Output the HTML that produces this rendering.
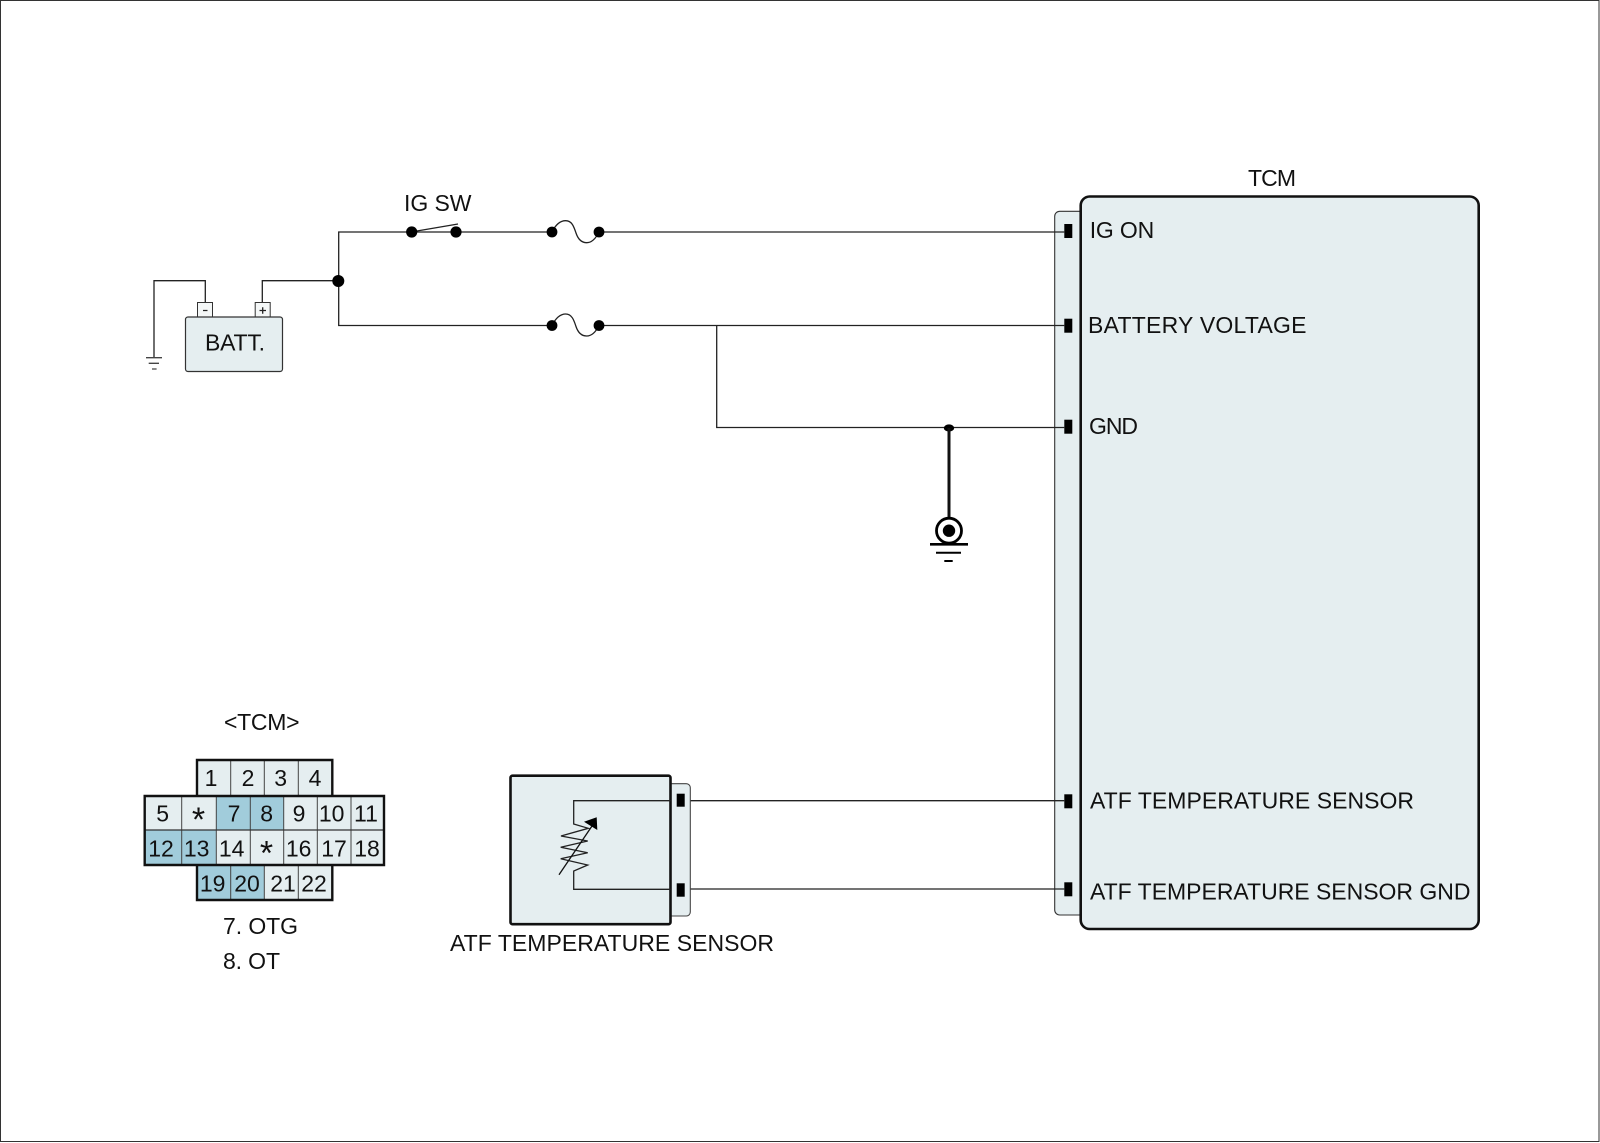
<!DOCTYPE html>
<html><head><meta charset="utf-8"><style>
html,body{margin:0;padding:0;background:#fff}
svg{display:block}
text{font-family:"Liberation Sans",Arial,sans-serif;font-size:23px;fill:#111}
.n text{text-anchor:middle}
.n text.s{font-size:34px}
</style></head><body>
<svg width="1600" height="1143" viewBox="0 0 1600 1143" xmlns="http://www.w3.org/2000/svg">
<rect x="0.5" y="0.5" width="1598.5" height="1141" fill="#fff" stroke="#333" stroke-width="1"/>

<!-- TCM module -->
<rect x="1054.7" y="211.3" width="40" height="703.7" rx="5" fill="#e5eef0" stroke="#333" stroke-width="1.1"/>
<rect x="1080.7" y="196.5" width="398" height="732.5" rx="9" fill="#e5eef0" stroke="#111" stroke-width="2.6"/>
<g fill="#000">
<rect x="1064.3" y="224" width="8" height="14"/>
<rect x="1064.3" y="318.7" width="8" height="14"/>
<rect x="1064.3" y="419.7" width="8" height="14"/>
<rect x="1064.3" y="794.3" width="8" height="14"/>
<rect x="1064.3" y="882.3" width="8" height="14"/>
</g>
<text x="1248" y="186" textLength="48">TCM</text>
<text x="1089.7" y="238" textLength="64.5">IG ON</text>
<text x="1088" y="333" textLength="218.5">BATTERY VOLTAGE</text>
<text x="1089" y="434" textLength="49">GND</text>
<text x="1090" y="808.7" textLength="324">ATF TEMPERATURE SENSOR</text>
<text x="1090" y="899.3" textLength="380.5">ATF TEMPERATURE SENSOR GND</text>

<!-- wires -->
<g fill="none" stroke="#222" stroke-width="1.3">
<path d="M154 357V280.7H205.3V302"/>
<path d="M262.3 302V280.7H338.3"/>
<path d="M552 232H338.7V325.5H552"/>
<path d="M599 232H1064.3"/>
<path d="M599 325.5H1064.3"/>
<path d="M716.7 325.5V427.5H1064.3"/>
<path d="M411 232L458 224"/>
<path d="M552 232C556 224 561 220.7 565.7 220.7C572 220.7 574 227 576 233C578 239 581 242.7 586.7 242.7C592 242.7 596 238 599 232"/>
<path d="M552 325.5C556 317.5 561 314 565.7 314C572 314 574 320.5 576 326.5C578 332.5 581 336 586.7 336C592 336 596 331.5 599 325.5"/>
<path d="M690.3 800.7H1064.3"/>
<path d="M690.3 889H1064.3"/>
</g>
<g fill="#000">
<circle cx="338.3" cy="281" r="6"/>
<circle cx="411.7" cy="232" r="5.6"/>
<circle cx="456" cy="232" r="5.6"/>
<circle cx="552" cy="232" r="5.4"/>
<circle cx="599" cy="232" r="5.4"/>
<circle cx="552" cy="325.5" r="5.4"/>
<circle cx="599" cy="325.5" r="5.4"/>
<ellipse cx="949" cy="428" rx="5.2" ry="3.6"/>
</g>
<text x="404" y="211" textLength="67.5">IG SW</text>

<!-- battery -->
<rect x="197.5" y="302.5" width="15" height="15" fill="#f4f7f7" stroke="#333" stroke-width="1"/>
<rect x="255.2" y="302.5" width="15" height="15" fill="#f4f7f7" stroke="#333" stroke-width="1"/>
<path d="M203 310.5h4.5M259.5 310.5h6.5M262.7 307.2v6.6" stroke="#222" stroke-width="1.3" fill="none"/>
<rect x="185.5" y="317" width="97" height="54.5" rx="2.5" fill="#e5eef0" stroke="#333" stroke-width="1.2"/>
<text x="205" y="350.7" textLength="60">BATT.</text>
<path d="M146 357.7H162M148.7 363.3H159M152 369H156.6" stroke="#444" stroke-width="1.3" fill="none"/>

<!-- chassis ground -->
<path d="M949 428V518" stroke="#111" stroke-width="3" fill="none"/>
<circle cx="949" cy="530.7" r="12.5" fill="#fff" stroke="#000" stroke-width="2.8"/>
<circle cx="949" cy="530.7" r="6.2" fill="#000"/>
<path d="M930 544.3H968" stroke="#000" stroke-width="2.6"/>
<path d="M936 552.7H961" stroke="#000" stroke-width="2"/>
<path d="M944.3 561H952.7" stroke="#000" stroke-width="2"/>

<!-- connector -->
<text x="224" y="730" textLength="75.5">&lt;TCM&gt;</text>
<g fill="#e5eef0">
<rect x="197" y="760" width="135.3" height="35"/>
<rect x="144.7" y="796" width="239.3" height="69"/>
<rect x="197" y="865" width="135.3" height="35"/>
</g>
<g fill="#a1ccdb">
<rect x="216.3" y="796" width="67.4" height="34"/>
<rect x="144.7" y="830" width="71.6" height="35"/>
<rect x="197" y="865" width="67.3" height="35"/>
</g>
<path d="M230.7 760V795M264.3 760V795M298.3 760V795M181.7 796V865M216.3 796V865M250.3 796V865M283.7 796V865M317.3 796V865M351 796V865M230.7 865V900M264.3 865V900M298.3 865V900" stroke="#444" stroke-width="1" fill="none"/>
<path d="M144.7 830H384" stroke="#333" stroke-width="1.2" fill="none"/>
<path d="M197 795V760H332.3V795M144.7 796H384V865H144.7ZM197 865V900H332.3V865" stroke="#111" stroke-width="2.4" fill="none"/>
<g class="n">
<text x="211" y="786">1</text><text x="248" y="786">2</text><text x="280.7" y="786">3</text><text x="315" y="786">4</text>
<text x="162.7" y="821.7">5</text><text class="s" x="198.5" y="831">*</text><text x="234" y="821.7">7</text><text x="266.7" y="821.7">8</text><text x="299" y="821.7">9</text><text x="331.7" y="821.7">10</text><text x="366" y="821.7">11</text>
<text x="161" y="856.7">12</text><text x="196.7" y="856.7">13</text><text x="231.7" y="856.7">14</text><text class="s" x="266.5" y="864.5">*</text><text x="298.7" y="856.7">16</text><text x="334" y="856.7">17</text><text x="367" y="856.7">18</text>
<text x="212.7" y="891.7">19</text><text x="247" y="891.7">20</text><text x="283" y="891.7">21</text><text x="314" y="891.7">22</text>
</g>
<text x="223" y="934" textLength="75">7. OTG</text>
<text x="223" y="969" textLength="57">8. OT</text>

<!-- sensor -->
<rect x="660" y="783.7" width="30.3" height="132.3" rx="4" fill="#e5eef0" stroke="#444" stroke-width="1.1"/>
<rect x="510.5" y="775.7" width="160" height="148.5" rx="2" fill="#e5eef0" stroke="#111" stroke-width="2.6"/>
<rect x="676.7" y="793.7" width="8" height="13" fill="#000"/>
<rect x="676.7" y="883.3" width="8" height="13.4" fill="#000"/>
<path d="M670.5 800.7H573.7V824L588.3 828.3L561 836L587.7 841L560.7 847.3L587.7 852.7L560.7 858.7L587.7 865L573.7 871V889.3H670.5" fill="none" stroke="#222" stroke-width="1.3"/>
<path d="M559 874.7L592 826" fill="none" stroke="#111" stroke-width="1.3"/>
<path d="M584 821.7L596.7 817.3L597.3 830Z" fill="#000"/>
<text x="450" y="951" textLength="324">ATF TEMPERATURE SENSOR</text>
</svg>
</body></html>
